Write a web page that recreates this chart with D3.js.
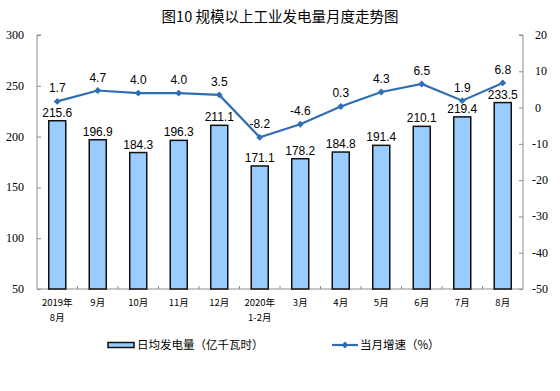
<!DOCTYPE html>
<html><head><meta charset="utf-8">
<script src="https://cdn.jsdelivr.net/npm/d3@7"></script>
<style>body{margin:0;background:#fff}svg{display:block}</style>
</head><body><svg id="c" width="560" height="391"></svg>
<script>
const categories = [["2019年","8月"],["9月"],["10月"],["11月"],["12月"],["2020年","1-2月"],["3月"],["4月"],["5月"],["6月"],["7月"],["8月"]];
const output = [215.6,196.9,184.3,196.3,211.1,171.1,178.2,184.8,191.4,210.1,219.4,233.5];
const growth = [1.7,4.7,4.0,4.0,3.5,-8.2,-4.6,0.3,4.3,6.5,1.9,6.8];
const leftTicks = [50,100,150,200,250,300];
const rightTicks = [-50,-40,-30,-20,-10,0,10,20];
const title = "图10 规模以上工业发电量月度走势图";
const legendBar = "日均发电量（亿千瓦时）";
const legendLine = "当月增速（%）";

const svg = d3.select("#c");
const L = 37, R = 523, T = 35, B = 289;
const cjk = "'Noto Sans CJK SC', sans-serif";
const idx = categories.map((d,i)=>i);
const x = d3.scaleBand().domain(idx).range([L,R]).paddingInner(0.58).paddingOuter(0.29);
const xb = d3.scaleBand().domain(idx).range([L,R]);
const yL = d3.scaleLinear().domain([50,300]).range([B,T]);
const yR = d3.scaleLinear().domain([-50,20]).range([B,T]);
const grey = "#8c8c8c";

svg.append("text").attr("x",280).attr("y",22).attr("text-anchor","middle")
  .style("font-family",cjk).style("font-size","14.5px").style("font-weight","normal").attr("fill","#000").text(title);

// axes
const gl = svg.append("g").attr("transform",`translate(${L},0)`)
  .call(d3.axisRight(yL).tickValues(leftTicks).tickSize(4).tickFormat(""));
gl.selectAll("path,line").attr("stroke",grey);
const gr = svg.append("g").attr("transform",`translate(${R},0)`)
  .call(d3.axisLeft(yR).tickValues(rightTicks).tickSize(4).tickFormat(""));
gr.selectAll("path,line").attr("stroke",grey);
gl.select("path").attr("d",`M4,${T}H0V${B}`);
gr.select("path").attr("d",`M-4,${T}H0V${B}`);

svg.append("g").selectAll("text").data(leftTicks).join("text")
  .attr("x",24).attr("y",d=>yL(d)+4).attr("text-anchor","end")
  .style("font-family","'Liberation Serif', serif").style("font-size","12px").text(d=>d);
svg.append("g").selectAll("text").data(rightTicks).join("text")
  .attr("x",d=>d<0?532:535).attr("y",d=>yR(d)+4).attr("text-anchor","start")
  .style("font-family","'Liberation Serif', serif").style("font-size","12px").text(d=>d);

// x axis
svg.append("line").attr("x1",L).attr("x2",R).attr("y1",B).attr("y2",B).attr("stroke",grey);
svg.append("g").selectAll("line").data(idx.slice(1)).join("line")
  .attr("x1",d=>xb(d)).attr("x2",d=>xb(d)).attr("y1",B).attr("y2",B-3).attr("stroke",grey);

// bars
svg.append("g").selectAll("rect").data(output).join("rect")
  .attr("x",(d,i)=>x(i)).attr("width",x.bandwidth())
  .attr("y",d=>yL(d)).attr("height",d=>B-yL(d))
  .attr("fill","#99ccff").attr("stroke","#111").attr("stroke-width",1.5);
svg.append("g").selectAll("text").data(output).join("text")
  .attr("x",(d,i)=>x(i)+x.bandwidth()/2).attr("y",d=>yL(d)-4).attr("text-anchor","middle")
  .style("font-family","'Liberation Sans', Arial, sans-serif").style("font-size","12px").text(d=>d.toFixed(1));

// category labels (one text per line)
const catLines = [];
categories.forEach((c,i)=>c.forEach((t,j)=>catLines.push({i,j,t})));
svg.append("g").selectAll("text").data(catLines).join("text")
  .attr("x",d=>x(d.i)+x.bandwidth()/2).attr("y",d=>306+d.j*14.5).attr("text-anchor","middle")
  .style("font-family",cjk).style("font-size","9.5px").text(d=>d.t);

// line
const lineColor = "#2f6db5";
const cx = i=>x(i)+x.bandwidth()/2;
svg.append("path").datum(growth)
  .attr("d",d3.line().x((d,i)=>cx(i)).y(d=>yR(d)))
  .attr("fill","none").attr("stroke",lineColor).attr("stroke-width",2.2);
svg.append("g").selectAll("path").data(growth).join("path")
  .attr("transform",(d,i)=>`translate(${cx(i)},${yR(d)})`)
  .attr("d",d3.symbol(d3.symbolDiamond2,30)()).attr("fill",lineColor);
svg.append("g").selectAll("text").data(growth).join("text")
  .attr("x",(d,i)=>cx(i)).attr("y",d=>yR(d)-9).attr("text-anchor","middle")
  .style("font-family","'Liberation Sans', Arial, sans-serif").style("font-size","12px").text(d=>d.toFixed(1));

// legend
svg.append("rect").attr("x",108).attr("y",342.5).attr("width",26).attr("height",5)
  .attr("fill","#99ccff").attr("stroke","#111").attr("stroke-width",1.5);
svg.append("text").attr("x",137).attr("y",349).style("font-family",cjk).style("font-size","11.5px").text(legendBar);
svg.append("line").attr("x1",332).attr("x2",358).attr("y1",345).attr("y2",345).attr("stroke",lineColor).attr("stroke-width",2.2);
svg.append("path").attr("transform","translate(345,345)").attr("d",d3.symbol(d3.symbolDiamond2,30)()).attr("fill",lineColor);
svg.append("text").attr("x",360).attr("y",349).style("font-family",cjk).style("font-size","11.5px").text(legendLine);
</script></body></html>
